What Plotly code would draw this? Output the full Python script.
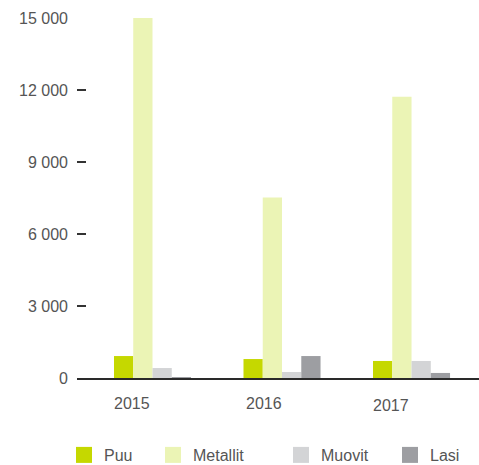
import plotly.graph_objects as go

# values (tonnes)
years = ["2015", "2016", "2017"]
puu = [915, 790, 710]
metallit = [15000, 7520, 11720]
muovit = [415, 250, 710]
lasi = [40, 915, 210]

series_names = ["Puu", "Metallit", "Muovit", "Lasi"]
series_values = [puu, metallit, muovit, lasi]
colors = ["#c5d800", "#ebf4b5", "#d3d4d6", "#9d9ea2"]

y_ticks = [0, 3000, 6000, 9000, 12000, 15000]
y_ticktext = ["0", "3 000", "6 000", "9 000", "12 000", "15 000"]

text_color = "#555555"
font_family = "Liberation Sans, Arial, sans-serif"

fig = go.Figure()

for name, vals, col in zip(series_names, series_values, colors):
    fig.add_trace(go.Bar(
        name=name,
        x=list(range(len(years))),
        y=vals,
        marker_color=col,
        marker_line_width=0,
        showlegend=False,
    ))

# legend entries: one legend per item so each can sit where the original has it
legend_x_px = [64, 153, 281, 390]
plot_left, plot_width = 77, 402
legend_keys = ["legend", "legend2", "legend3", "legend4"]
for name, col, key in zip(series_names, colors, legend_keys):
    fig.add_trace(go.Scatter(
        name=name,
        x=[None], y=[None],
        mode="markers",
        marker=dict(symbol="square", size=16, color=col),
        legend=key,
        showlegend=True,
    ))

legend_layouts = {}
for key, px_x in zip(legend_keys, legend_x_px):
    legend_layouts[key] = dict(
        x=(px_x - plot_left) / plot_width,
        y=(378 - 455) / 360,
        xanchor="left",
        yanchor="middle",
        orientation="h",
        bgcolor="rgba(0,0,0,0)",
        font=dict(size=16, color=text_color, family=font_family),
    )

# year labels sit a bit left of each group, as in the original
year_shift = [-21, -18, -21]
year_y = [403, 403, 405]
annotations = []
for i, (yr, dx, py) in enumerate(zip(years, year_shift, year_y)):
    annotations.append(dict(
        x=i, xref="x",
        y=(378 - py) / 360, yref="paper",
        text=yr, showarrow=False,
        xshift=dx,
        xanchor="center", yanchor="middle",
        font=dict(size=16, color=text_color, family=font_family),
    ))

fig.update_layout(
    width=479,
    height=465,
    margin=dict(l=77, r=0, t=18, b=87, autoexpand=False),
    plot_bgcolor="white",
    paper_bgcolor="white",
    barmode="group",
    bargap=0.405,
    bargroupgap=0,
    font=dict(family=font_family, size=16, color=text_color),
    annotations=annotations,
    **legend_layouts,
)

fig.update_xaxes(
    range=[-0.583, 2.521],
    showticklabels=False,
    ticks="",
    showgrid=False,
    zeroline=False,
    showline=True,
    linecolor="#2a2a2a",
    linewidth=2,
    automargin=False,
)

fig.update_yaxes(
    range=[0, 15000],
    tickvals=y_ticks,
    ticktext=y_ticktext,
    ticks="inside",
    ticklen=9,
    tickwidth=2,
    tickcolor="#333333",
    ticklabelstandoff=8,
    showgrid=False,
    zeroline=False,
    showline=False,
    automargin=False,
    tickfont=dict(size=16, color=text_color, family=font_family),
)

# the page's default body margin would push the fixed-size figure off the window
fig.write_html(
    "out.html",
    config={"displayModeBar": False},
    post_script="document.body.style.margin='0px';",
)
